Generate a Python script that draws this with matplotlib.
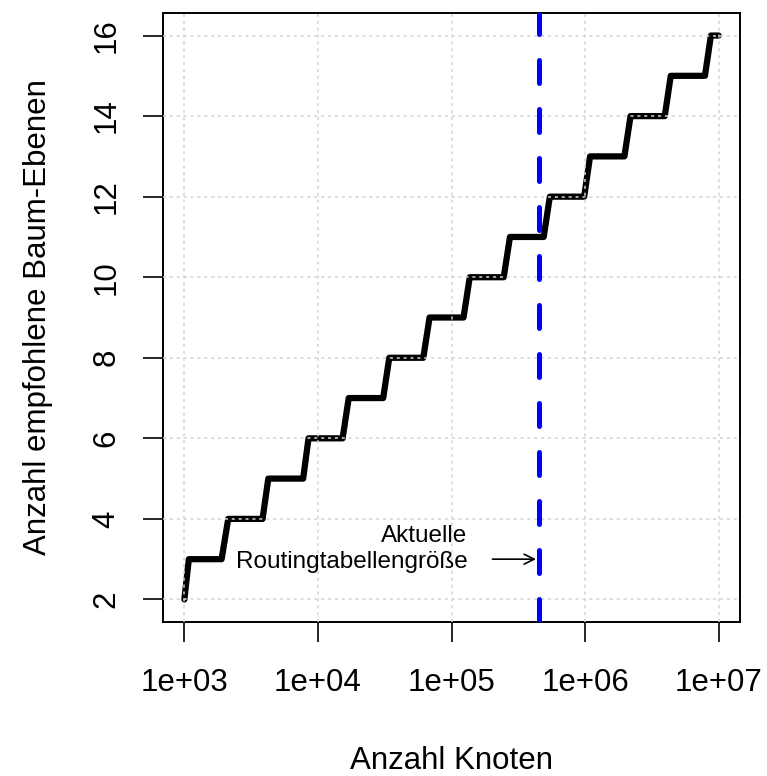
import matplotlib
matplotlib.use("Agg")
import matplotlib.pyplot as plt

plt.rcParams['font.family'] = ['Liberation Sans', 'DejaVu Sans']

# sampled node counts and the recommended number of tree levels at each sample
knoten = [1000, 1080, 1900, 2130, 3850, 4250, 7750, 8500, 15300, 17000,
          30800, 34200, 61500, 68500, 123000, 137000, 246000, 274000,
          490000, 545000, 985000, 1090000, 1970000, 2190000, 3950000,
          4380000, 7900000, 8750000, 10000000]
ebenen = [2, 3, 3, 4, 4, 5, 5, 6, 6, 7,
          7, 8, 8, 9, 9, 10, 10, 11,
          11, 12, 12, 13, 13, 14, 14,
          15, 15, 16, 16]

# current routing table size
routing_groesse = 450000

x_ticks = [1e3, 1e4, 1e5, 1e6, 1e7]
x_labels = ['1e+03', '1e+04', '1e+05', '1e+06', '1e+07']
y_ticks = [2, 4, 6, 8, 10, 12, 14, 16]

fig = plt.figure(figsize=(7.67, 7.76), dpi=100)
ax = fig.add_axes([163 / 767, 1 - 622 / 776, 577 / 767, 609 / 776])

ax.plot(knoten, ebenen, color='black', lw=4.5,
        solid_capstyle='round', solid_joinstyle='round', zorder=2)
ax.axvline(routing_groesse, color='#0000ff', lw=3.6, ls=(0, (4.6, 5.2)),
           dash_capstyle='round', zorder=4)

ax.annotate('', xy=(routing_groesse, 3.0), xytext=(1.93e5, 3.0),
            arrowprops=dict(arrowstyle='->', color='black', lw=1.2,
                            mutation_scale=18), zorder=5)
ax.text(1.32e5, 3.25, 'Aktuelle\nRoutingtabellengröße', ha='right',
        va='center', multialignment='right', fontsize=17.5,
        linespacing=1.25)

ax.set_xscale('log')
ax.set_xlim(10 ** 2.84, 10 ** 7.16)
ax.set_ylim(1.44, 16.56)
ax.set_xticks(x_ticks)
ax.set_xticklabels(x_labels)
ax.minorticks_off()
ax.set_yticks(y_ticks)
ax.set_yticklabels([str(v) for v in y_ticks], rotation=90, va='center')

ax.tick_params(axis='both', direction='out', length=14.4, width=1.2,
               labelsize=22.5)
ax.tick_params(axis='x', pad=18.5)
ax.tick_params(axis='y', pad=15.5)

for s in ax.spines.values():
    s.set_linewidth(1.4)

ax.set_axisbelow(False)
ax.grid(True, color='#d3d3d3', ls=(0, (2, 2.5)), lw=1.1, zorder=3)

ax.set_xlabel('Anzahl Knoten', fontsize=22.5, labelpad=35)
ax.set_ylabel('Anzahl empfohlene Baum-Ebenen', fontsize=22.5, labelpad=28)

fig.savefig('out.png', dpi=100)
